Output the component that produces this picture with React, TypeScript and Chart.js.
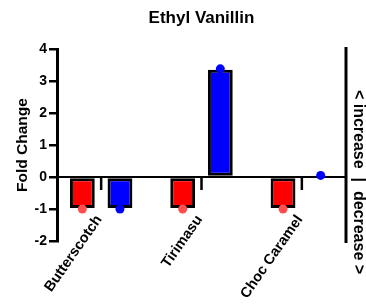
import React, { useEffect, useRef } from "react";
import { Chart, registerables } from "chart.js";

Chart.register(...registerables);

const TITLE = "Ethyl Vanillin";
const Y_TITLE = "Fold Change";
const SIDE_TEXT = "< increase  |  decrease >";
const categories = ["Butterscotch", "Tirimasu", "Choc Caramel"];
const redBars = [-0.97, -0.97, -0.97];
const blueBars = [-0.97, 3.35, 0.04];
const redPoints = [-1.0, -1.0, -1.0];
const bluePoints = [-1.0, 3.38, 0.05];
const yMin = -2;
const yMax = 4;

const CAT_PCT = 0.75;
const BAR_PCT = 0.66;
const FONT = "'Liberation Sans', Arial, sans-serif";

const overlay = {
  id: "overlay",
  beforeDatasetsDraw(chart: any) {
    const { ctx, chartArea, scales } = chart;
    const y0 = scales.y.getPixelForValue(0);
    ctx.save();
    ctx.strokeStyle = "#000";
    ctx.lineWidth = 2;
    ctx.beginPath();
    ctx.moveTo(chartArea.left, y0);
    ctx.lineTo(chartArea.right, y0);
    ctx.stroke();
    ctx.lineWidth = 2.5;
    categories.forEach((_, i) => {
      const x = scales.x.getPixelForValue(i);
      ctx.beginPath();
      ctx.moveTo(x, y0);
      ctx.lineTo(x, y0 + 13);
      ctx.stroke();
    });
    ctx.restore();
  },
  afterDraw(chart: any) {
    const { ctx, chartArea, scales } = chart;
    const y0 = scales.y.getPixelForValue(0);
    ctx.save();
    ctx.strokeStyle = "#000";
    ctx.lineWidth = 3;
    ctx.beginPath();
    ctx.moveTo(chartArea.right, chartArea.top - 2);
    ctx.lineTo(chartArea.right, chartArea.bottom + 2);
    ctx.stroke();
    ctx.fillStyle = "#000";
    ctx.font = `bold 14.5px ${FONT}`;
    ctx.textAlign = "right";
    ctx.textBaseline = "middle";
    categories.forEach((c, i) => {
      const x = scales.x.getPixelForValue(i);
      ctx.save();
      ctx.translate(x - 2, y0 + 40);
      ctx.rotate((-55 * Math.PI) / 180);
      ctx.fillText(c, 0, 0);
      ctx.restore();
    });
    ctx.font = `bold 16px ${FONT}`;
    ctx.textAlign = "center";
    ctx.save();
    ctx.translate(chartArea.right + 12, 182);
    ctx.rotate(Math.PI / 2);
    ctx.fillText(SIDE_TEXT, 0, 0);
    ctx.restore();
    ctx.restore();
  },
};

export default function App() {
  const ref = useRef<HTMLCanvasElement>(null);
  useEffect(() => {
    if (!ref.current) return;
    const chart = new Chart(ref.current, {
      type: "bar",
      data: {
        datasets: [
          {
            type: "scatter",
            data: redPoints.map((v, i) => ({ x: i - CAT_PCT / 4, y: v })),
            backgroundColor: "#ff4f4f",
            borderWidth: 0,
            pointRadius: 4.5,
            order: 1,
          } as any,
          {
            type: "scatter",
            data: bluePoints.map((v, i) => ({ x: i + CAT_PCT / 4, y: v })),
            backgroundColor: "#0000ff",
            borderWidth: 0,
            pointRadius: 4.5,
            order: 1,
          } as any,
          {
            type: "bar",
            data: redBars.map((v, i) => ({ x: i, y: v })),
            backgroundColor: "#ff0000",
            borderColor: "#000",
            borderWidth: 3,
            borderSkipped: false,
            categoryPercentage: CAT_PCT,
            barPercentage: BAR_PCT,
            order: 2,
          } as any,
          {
            type: "bar",
            data: blueBars.map((v, i) => ({ x: i, y: v })),
            backgroundColor: "#0000ff",
            borderColor: "#000",
            borderWidth: 3,
            borderSkipped: false,
            categoryPercentage: CAT_PCT,
            barPercentage: BAR_PCT,
            order: 2,
          } as any,
        ],
      },
      options: {
        responsive: false,
        animation: false,
        layout: { padding: { left: 0, right: 20, top: 0, bottom: 65 } },
        plugins: {
          legend: { display: false },
          tooltip: { enabled: false },
          title: {
            display: true,
            text: TITLE,
            fullSize: false,
            color: "#000",
            font: { family: FONT, size: 17, weight: "bold" },
            padding: { top: 8, bottom: 20.6 },
          },
        },
        scales: {
          x: {
            type: "linear",
            display: false,
            offset: false,
            min: -0.44,
            max: 2.44,
            afterBuildTicks(scale: any) {
              scale.ticks = categories.map((_, i) => ({ value: i }));
            },
          },
          y: {
            min: yMin,
            max: yMax,
            afterFit(scale: any) {
              scale.width = 57;
            },
            ticks: {
              stepSize: 1,
              color: "#000",
              padding: 2,
              font: { family: FONT, size: 14, weight: "bold" },
            },
            grid: {
              drawOnChartArea: false,
              drawTicks: true,
              tickLength: 8,
              lineWidth: 2.5,
              color: "#000",
            },
            border: { display: true, width: 3, color: "#000" },
            title: {
              display: true,
              text: Y_TITLE,
              color: "#000",
              font: { family: FONT, size: 15.5, weight: "bold" },
              padding: { top: 13, bottom: 0 },
            },
          },
        },
      },
      plugins: [overlay],
    });
    return () => chart.destroy();
  }, []);
  return (
    <div style={{ position: "fixed", left: 0, top: 0, width: 366, height: 306, background: "#fff" }}>
      <canvas ref={ref} width={366} height={306} />
    </div>
  );
}
